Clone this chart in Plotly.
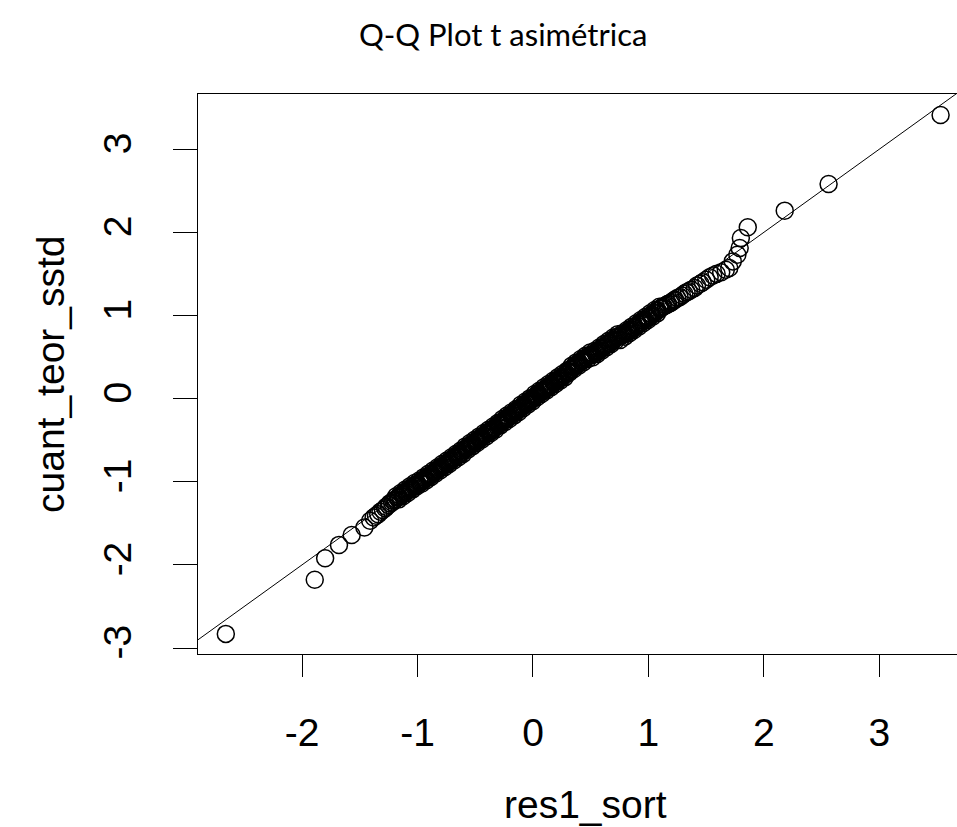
import plotly.graph_objects as go

# Sorted residuals (x) against theoretical skew-t quantiles (y)
res1_sort = [
    -2.66, -1.89, -1.80, -1.68, -1.57, -1.46, -1.41, -1.38, -1.36, -1.34,
    -1.32, -1.30, -1.28, -1.27, -1.25, -1.24, -1.22, -1.21,
    -1.20, -1.19, -1.17, -1.16, -1.15, -1.13, -1.12, -1.11, -1.10, -1.08,
    -1.07, -1.06, -1.05, -1.03, -1.02, -1.01, -1.00, -0.98, -0.97, -0.96,
    -0.95, -0.94, -0.92, -0.91, -0.90, -0.89, -0.88, -0.86, -0.85, -0.84,
    -0.83, -0.82, -0.80, -0.79, -0.78, -0.77, -0.76, -0.75, -0.73, -0.72,
    -0.71, -0.70, -0.69, -0.68, -0.66, -0.65, -0.64, -0.63, -0.62, -0.61,
    -0.60, -0.58, -0.57, -0.56, -0.55, -0.54, -0.53, -0.52, -0.50, -0.49,
    -0.48, -0.47, -0.46, -0.45, -0.44, -0.43, -0.41, -0.40, -0.39, -0.38,
    -0.37, -0.36, -0.35, -0.34, -0.33, -0.31, -0.30, -0.29, -0.28, -0.27,
    -0.26, -0.25, -0.24, -0.23, -0.22, -0.21, -0.19, -0.18, -0.17, -0.16,
    -0.15, -0.14, -0.13, -0.12, -0.11, -0.10, -0.09, -0.08, -0.06, -0.05,
    -0.04, -0.03, -0.02, -0.01, 0.00, 0.01, 0.02, 0.03, 0.04, 0.05,
    0.07, 0.08, 0.09, 0.10, 0.11, 0.12, 0.13, 0.14, 0.15, 0.16,
    0.18, 0.19, 0.20, 0.21, 0.22, 0.23, 0.24, 0.25, 0.27, 0.28,
    0.29, 0.30, 0.31, 0.32, 0.33, 0.35, 0.36, 0.37, 0.38, 0.39,
    0.40, 0.42, 0.43, 0.44, 0.45, 0.46, 0.48, 0.49, 0.50, 0.51,
    0.52, 0.54, 0.55, 0.56, 0.57, 0.59, 0.60, 0.61, 0.62, 0.64,
    0.65, 0.66, 0.68, 0.69, 0.70, 0.72, 0.73, 0.74, 0.76, 0.77,
    0.78, 0.80, 0.81, 0.83, 0.84, 0.85, 0.87, 0.88, 0.90, 0.91,
    0.93, 0.94, 0.96, 0.97, 0.99, 1.00, 1.02, 1.03, 1.05, 1.07,
    1.08, 1.10,
    -1.185, -1.165, -1.145, -1.125, -1.105, -1.085, -1.065, -1.045, -1.025, -1.005,
    -0.985, -0.965, -0.945, -0.925, -0.905, -0.885, -0.865, -0.845, -0.825, -0.805,
    -0.785, -0.765, -0.745, -0.725, -0.705, -0.685, -0.665, -0.645, -0.625, -0.605,
    -0.585, -0.565, -0.545, -0.525, -0.505, -0.485, -0.465, -0.445, -0.425, -0.405,
    -0.385, -0.365, -0.345, -0.325, -0.305, -0.285, -0.265, -0.245, -0.225, -0.205,
    -0.185, -0.165, -0.145, -0.125, -0.105, -0.085, -0.065, -0.045, -0.025, -0.005,
    0.015, 0.035, 0.055, 0.075, 0.095, 0.115, 0.135, 0.155, 0.175, 0.195,
    0.215, 0.235, 0.255, 0.275, 0.295, 0.315, 0.335, 0.355, 0.375, 0.395,
    0.415, 0.435, 0.455, 0.475, 0.495, 0.515, 0.535, 0.555, 0.575, 0.595,
    0.615, 0.635, 0.655, 0.675, 0.695, 0.715, 0.735, 0.755, 0.775, 0.795,
    0.815, 0.835, 0.855, 0.875, 0.895, 0.915, 0.935, 0.955, 0.975, 0.995,
    1.015, 1.035, 1.055, 1.075, 1.095,
    1.11, 1.12, 1.13, 1.15, 1.16, 1.17, 1.19, 1.20, 1.22, 1.23,
    1.25, 1.27, 1.29, 1.31, 1.33, 1.35, 1.37, 1.40, 1.42, 1.45,
    1.47, 1.50, 1.53, 1.56, 1.59, 1.63, 1.67, 1.70, 1.73, 1.77,
    1.79, 1.80, 1.86, 2.18, 2.56, 3.53,
]

cuant_teor_sstd = [
    -2.83, -2.18, -1.92, -1.76, -1.64, -1.55, -1.47, -1.43, -1.41, -1.39,
    -1.36, -1.34, -1.32, -1.30, -1.28, -1.26, -1.25, -1.23,
    -1.22, -1.21, -1.19, -1.18, -1.17, -1.15, -1.14, -1.13, -1.12, -1.10,
    -1.09, -1.08, -1.07, -1.05, -1.04, -1.03, -1.03, -1.01, -1.00, -0.99,
    -0.98, -0.97, -0.95, -0.94, -0.93, -0.92, -0.91, -0.89, -0.88, -0.87,
    -0.86, -0.85, -0.83, -0.82, -0.81, -0.80, -0.79, -0.78, -0.76, -0.75,
    -0.74, -0.73, -0.72, -0.71, -0.69, -0.68, -0.67, -0.66, -0.65, -0.64,
    -0.62, -0.60, -0.59, -0.58, -0.57, -0.56, -0.55, -0.54, -0.52, -0.51,
    -0.50, -0.49, -0.48, -0.47, -0.46, -0.45, -0.43, -0.42, -0.41, -0.40,
    -0.39, -0.38, -0.37, -0.36, -0.35, -0.33, -0.31, -0.30, -0.29, -0.28,
    -0.27, -0.26, -0.25, -0.24, -0.23, -0.22, -0.20, -0.19, -0.18, -0.17,
    -0.16, -0.15, -0.14, -0.12, -0.11, -0.10, -0.09, -0.08, -0.06, -0.05,
    -0.04, -0.03, -0.02, -0.01, 0.00, 0.02, 0.03, 0.04, 0.05, 0.06,
    0.08, 0.09, 0.10, 0.11, 0.12, 0.13, 0.14, 0.15, 0.16, 0.17,
    0.19, 0.20, 0.21, 0.22, 0.23, 0.24, 0.25, 0.26, 0.28, 0.29,
    0.30, 0.32, 0.33, 0.35, 0.36, 0.38, 0.39, 0.40, 0.41, 0.42,
    0.43, 0.45, 0.46, 0.47, 0.48, 0.49, 0.51, 0.52, 0.52, 0.53,
    0.54, 0.55, 0.56, 0.57, 0.58, 0.60, 0.61, 0.62, 0.63, 0.65,
    0.66, 0.67, 0.69, 0.70, 0.71, 0.73, 0.74, 0.75, 0.75, 0.76,
    0.77, 0.78, 0.79, 0.81, 0.82, 0.83, 0.85, 0.86, 0.88, 0.89,
    0.91, 0.92, 0.94, 0.95, 0.97, 0.98, 1.00, 1.01, 1.03, 1.05,
    1.06, 1.08,
    -1.175, -1.215, -1.135, -1.175, -1.095, -1.135, -1.055, -1.095, -1.015, -1.055,
    -0.985, -1.025, -0.945, -0.985, -0.905, -0.945, -0.865, -0.905, -0.825, -0.865,
    -0.785, -0.825, -0.745, -0.785, -0.705, -0.745, -0.665, -0.705, -0.625, -0.665,
    -0.575, -0.615, -0.535, -0.575, -0.495, -0.535, -0.455, -0.495, -0.415, -0.455,
    -0.375, -0.415, -0.335, -0.375, -0.295, -0.325, -0.245, -0.285, -0.205, -0.245,
    -0.165, -0.205, -0.125, -0.165, -0.075, -0.115, -0.035, -0.075, 0.005, -0.035,
    0.055, 0.015, 0.095, 0.055, 0.135, 0.095, 0.175, 0.135, 0.215, 0.175,
    0.255, 0.215, 0.295, 0.255, 0.335, 0.315, 0.395, 0.355, 0.435, 0.395,
    0.475, 0.435, 0.515, 0.475, 0.555, 0.495, 0.575, 0.535, 0.615, 0.575,
    0.655, 0.615, 0.695, 0.655, 0.735, 0.695, 0.775, 0.705, 0.785, 0.745,
    0.825, 0.785, 0.865, 0.825, 0.905, 0.865, 0.945, 0.905, 0.985, 0.945,
    1.025, 0.985, 1.065, 1.025, 1.105,
    1.09, 1.10, 1.11, 1.12, 1.13, 1.14, 1.15, 1.16, 1.18, 1.19,
    1.21, 1.22, 1.24, 1.26, 1.28, 1.29, 1.31, 1.33, 1.36, 1.38,
    1.40, 1.43, 1.46, 1.48, 1.50, 1.52, 1.55, 1.57, 1.65, 1.73,
    1.81, 1.93, 2.06, 2.26, 2.58, 3.41,
]

x_ticks = [-2, -1, 0, 1, 2, 3]
y_ticks = [-3, -2, -1, 0, 1, 2, 3]

# Reference line y = a + b*x
line_intercept = 0.0
line_slope = 1.0

x_range = [-2.901, 3.672]
y_range = [-3.072, 3.663]

axis_font = dict(family="Liberation Sans, Arial, sans-serif", size=39, color="black")

fig = go.Figure()

fig.add_trace(go.Scatter(
    x=x_range,
    y=[line_intercept + line_slope * v for v in x_range],
    mode="lines",
    line=dict(color="black", width=1),
    hoverinfo="skip",
))

fig.add_trace(go.Scatter(
    x=res1_sort,
    y=cuant_teor_sstd,
    mode="markers",
    marker=dict(symbol="circle-open", size=17, color="black",
                line=dict(width=1.5, color="black")),
))

fig.update_xaxes(
    range=x_range,
    tickvals=x_ticks,
    ticktext=[str(v) for v in x_ticks],
    showgrid=False, zeroline=False,
    showline=True, mirror=True, linecolor="black", linewidth=1.3,
    ticks="outside", ticklen=22, tickwidth=1.3, tickcolor="black",
    tickfont=axis_font,
    ticklabelstandoff=22,
)

fig.update_yaxes(
    range=y_range,
    tickvals=y_ticks,
    ticktext=[str(v) for v in y_ticks],
    showgrid=False, zeroline=False,
    showline=True, mirror=False, linecolor="black", linewidth=1.3,
    ticks="outside", ticklen=24, tickwidth=1.3, tickcolor="black",
    tickfont=axis_font,
    tickangle=-90,
    ticklabelstandoff=26,
)

fig.update_layout(
    width=957, height=827,
    margin=dict(l=198, r=0, t=94, b=173),
    plot_bgcolor="white", paper_bgcolor="white",
    showlegend=False,
    annotations=[
        dict(text="Q-Q Plot t asimétrica", xref="paper", yref="paper",
             x=0.402, y=1.107, xanchor="center", yanchor="middle",
             showarrow=False,
             font=dict(family="Lato, Open Sans, sans-serif", size=31, color="black")),
        dict(text="res1_sort", xref="paper", yref="paper",
             x=0.51, y=-0.2696, xanchor="center", yanchor="middle",
             showarrow=False, font=axis_font),
        dict(text="cuant_teor_sstd", xref="paper", yref="paper",
             x=-0.195, y=0.5, xanchor="center", yanchor="middle",
             textangle=-90, showarrow=False, font=axis_font),
    ],
)

fig.write_html("out.html")
